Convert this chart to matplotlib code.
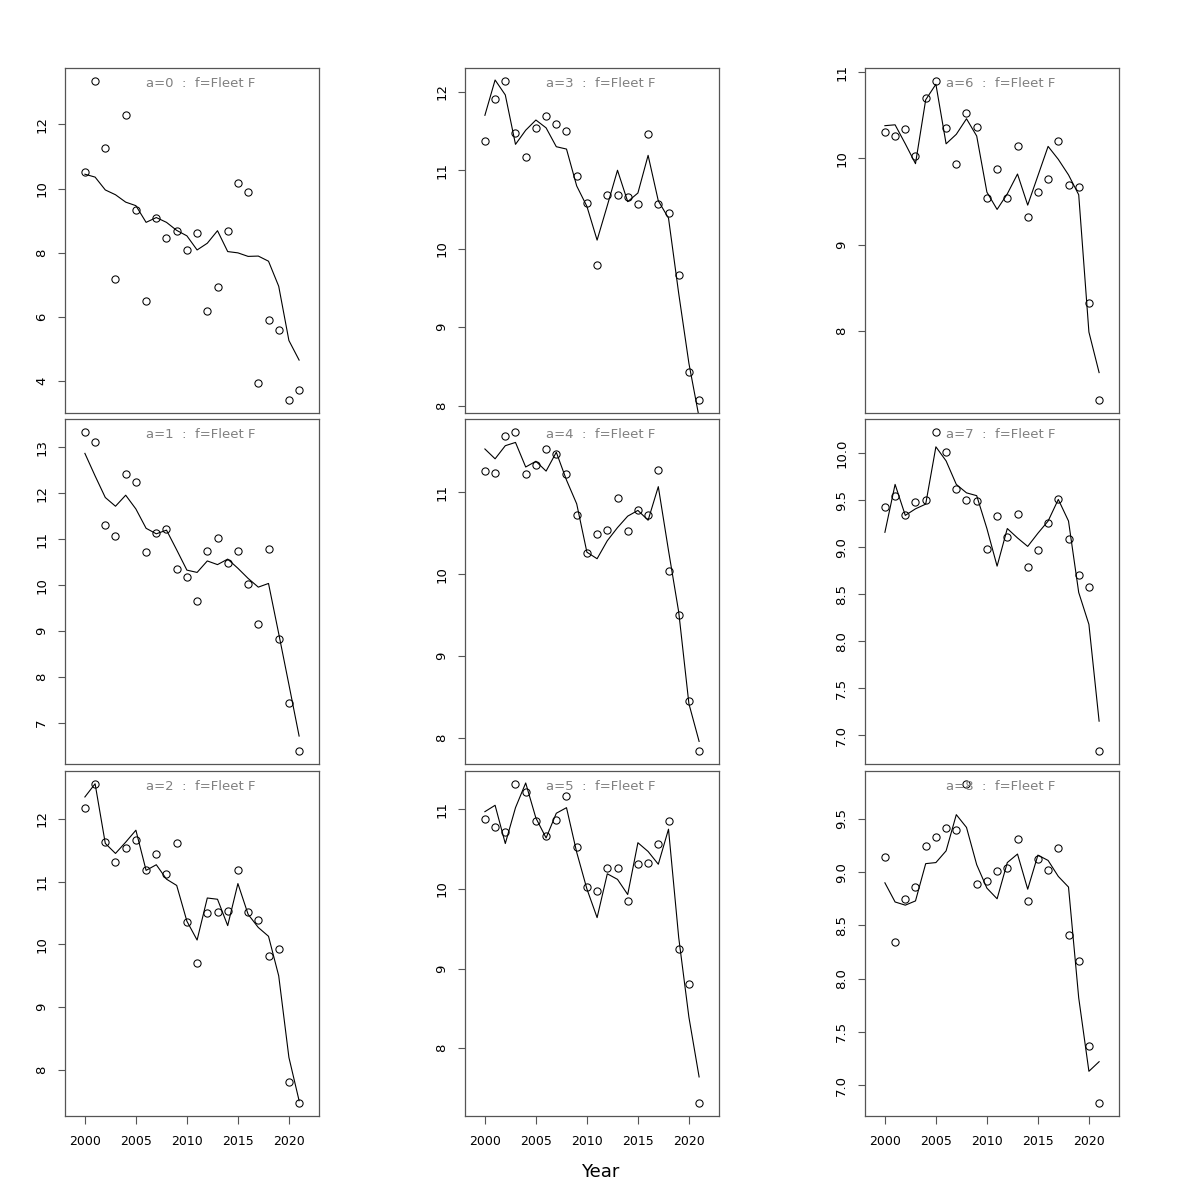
import matplotlib
matplotlib.use("Agg")
import matplotlib.pyplot as plt
import numpy as np

years = list(range(2000, 2022))

obs_a0 = [10.53, 13.36, 11.28, 7.20, 12.30, 9.35, 6.49, 9.10, 8.45, 8.67, 8.10, 8.63, 6.18, 6.93, 8.67, 10.19, 9.91, 3.94, 5.90, 5.59, 3.41, 3.72]
fit_a0 = [10.45, 10.36, 9.96, 9.81, 9.58, 9.47, 8.95, 9.10, 8.95, 8.70, 8.53, 8.09, 8.30, 8.69, 8.04, 8.00, 7.89, 7.90, 7.74, 6.96, 5.27, 4.66]

obs_a1 = [13.34, 13.12, 11.31, 11.07, 12.43, 12.25, 10.72, 11.14, 11.22, 10.36, 10.19, 9.66, 10.74, 11.02, 10.48, 10.74, 10.02, 9.16, 10.80, 8.84, 7.44, 6.39]
fit_a1 = [12.87, 12.38, 11.91, 11.72, 11.96, 11.66, 11.24, 11.12, 11.20, 10.77, 10.33, 10.28, 10.53, 10.45, 10.57, 10.37, 10.15, 9.96, 10.04, 8.95, 7.84, 6.72]

obs_a2 = [12.17, 12.56, 11.64, 11.32, 11.53, 11.66, 11.18, 11.44, 11.13, 11.61, 10.35, 9.70, 10.50, 10.52, 10.53, 11.19, 10.52, 10.39, 9.82, 9.93, 7.81, 7.47]
fit_a2 = [12.35, 12.56, 11.61, 11.45, 11.63, 11.82, 11.18, 11.27, 11.04, 10.94, 10.37, 10.07, 10.74, 10.72, 10.30, 10.97, 10.48, 10.27, 10.13, 9.50, 8.20, 7.51]

obs_a3 = [11.37, 11.91, 12.14, 11.47, 11.17, 11.54, 11.69, 11.59, 11.50, 10.93, 10.58, 9.79, 10.69, 10.68, 10.66, 10.57, 11.46, 10.57, 10.46, 9.66, 8.43, 8.07]
fit_a3 = [11.70, 12.15, 11.96, 11.33, 11.51, 11.64, 11.54, 11.30, 11.27, 10.80, 10.54, 10.11, 10.55, 11.00, 10.60, 10.71, 11.19, 10.61, 10.39, 9.43, 8.54, 7.85]

obs_a4 = [11.26, 11.24, 11.69, 11.74, 11.22, 11.33, 11.53, 11.47, 11.23, 10.72, 10.26, 10.49, 10.54, 10.93, 10.53, 10.79, 10.73, 11.27, 10.04, 9.50, 8.45, 7.84]
fit_a4 = [11.53, 11.41, 11.57, 11.61, 11.31, 11.38, 11.26, 11.49, 11.15, 10.86, 10.27, 10.19, 10.41, 10.57, 10.71, 10.78, 10.66, 11.07, 10.29, 9.54, 8.42, 7.96]

obs_a5 = [10.88, 10.78, 10.72, 11.32, 11.22, 10.85, 10.67, 10.87, 11.17, 10.53, 10.02, 9.98, 10.26, 10.26, 9.85, 10.31, 10.33, 10.56, 10.85, 9.24, 8.81, 7.31]
fit_a5 = [10.97, 11.05, 10.57, 11.02, 11.33, 10.89, 10.64, 10.95, 11.02, 10.46, 10.00, 9.64, 10.19, 10.12, 9.93, 10.58, 10.47, 10.31, 10.75, 9.39, 8.39, 7.64]

obs_a6 = [10.31, 10.26, 10.34, 10.03, 10.70, 10.90, 10.35, 9.94, 10.53, 10.37, 9.54, 9.88, 9.54, 10.14, 9.32, 9.61, 9.76, 10.20, 9.69, 9.67, 8.33, 7.20]
fit_a6 = [10.38, 10.39, 10.17, 9.94, 10.68, 10.86, 10.17, 10.28, 10.46, 10.26, 9.61, 9.41, 9.59, 9.82, 9.46, 9.80, 10.14, 9.99, 9.81, 9.58, 7.99, 7.52]

obs_a7 = [9.43, 9.55, 9.34, 9.48, 9.50, 10.23, 10.01, 9.62, 9.50, 9.49, 8.98, 9.33, 9.11, 9.35, 8.79, 8.97, 9.26, 9.51, 9.09, 8.71, 8.58, 6.83]
fit_a7 = [9.16, 9.67, 9.34, 9.41, 9.46, 10.07, 9.92, 9.67, 9.58, 9.55, 9.20, 8.80, 9.20, 9.10, 9.01, 9.15, 9.28, 9.51, 9.28, 8.52, 8.18, 7.15]

obs_a8 = [9.14, 8.34, 8.75, 8.86, 9.25, 9.33, 9.41, 9.40, 9.83, 8.89, 8.92, 9.01, 9.04, 9.31, 8.73, 9.12, 9.02, 9.23, 8.41, 8.17, 7.37, 6.83]
fit_a8 = [8.90, 8.72, 8.69, 8.73, 9.08, 9.09, 9.20, 9.54, 9.42, 9.07, 8.85, 8.75, 9.09, 9.17, 8.84, 9.16, 9.11, 8.96, 8.86, 7.82, 7.13, 7.22]

yticks = {
    0: [4, 6, 8, 10, 12],
    1: [7, 8, 9, 10, 11, 12, 13],
    2: [8, 9, 10, 11, 12],
    3: [8, 9, 10, 11, 12],
    4: [8, 9, 10, 11],
    5: [8, 9, 10, 11],
    6: [8, 9, 10, 11],
    7: [7.0, 7.5, 8.0, 8.5, 9.0, 9.5, 10.0],
    8: [7.0, 7.5, 8.0, 8.5, 9.0, 9.5],
}
xticks = [2000, 2005, 2010, 2015, 2020]

obs = [obs_a0, obs_a1, obs_a2, obs_a3, obs_a4, obs_a5, obs_a6, obs_a7, obs_a8]
fit = [fit_a0, fit_a1, fit_a2, fit_a3, fit_a4, fit_a5, fit_a6, fit_a7, fit_a8]

W, H = 1200, 1200
fig = plt.figure(figsize=(12, 12), dpi=100)
lefts = [65, 465, 865]
tops = [68, 419, 771]
aw, ah = 254, 345
frame_col = "#555555"

for a in range(9):
    col = a // 3
    row = a % 3
    l = lefts[col]
    t = tops[row]
    ax = fig.add_axes([l / W, 1 - (t + ah) / H, aw / W, ah / H])
    o = np.array(obs[a])
    f = np.array(fit[a])
    ax.plot(years, f, color="black", lw=0.8, zorder=2)
    ax.plot(years, o, linestyle="none", marker="o", markersize=5.2,
            markerfacecolor="none", markeredgecolor="black", markeredgewidth=0.75, zorder=3)
    lo, hi = o.min(), o.max()
    pad = 0.04 * (hi - lo)
    ax.set_ylim(lo - pad, hi + pad)
    ax.set_xlim(1998.05, 2022.95)
    for s in ax.spines.values():
        s.set_color(frame_col)
        s.set_linewidth(0.9)
    yt = yticks[a]
    ax.set_yticks(yt)
    if a in (7, 8):
        ax.set_yticklabels([f"{v:.1f}" for v in yt])
    else:
        ax.set_yticklabels([f"{v:g}" for v in yt])
    ax.tick_params(axis="y", length=5, width=0.8, color=frame_col, labelsize=9.5, pad=7)
    for lab in ax.get_yticklabels():
        lab.set_rotation(90)
        lab.set_va("center")
    if row == 2:
        ax.set_xticks(xticks)
        ax.set_xticklabels([str(x) for x in xticks])
        ax.tick_params(axis="x", length=6, width=0.8, color=frame_col, labelsize=9, pad=8)
    else:
        ax.set_xticks([])
    ax.text(0.535, 0.955, f"a={a}  :  f=Fleet F", transform=ax.transAxes,
            ha="center", va="center", color="#808080", fontsize=9.5)

fig.text(600 / W, 1 - 1172 / H, "Year", ha="center", va="center", fontsize=13)
fig.savefig("out.png", dpi=100)
